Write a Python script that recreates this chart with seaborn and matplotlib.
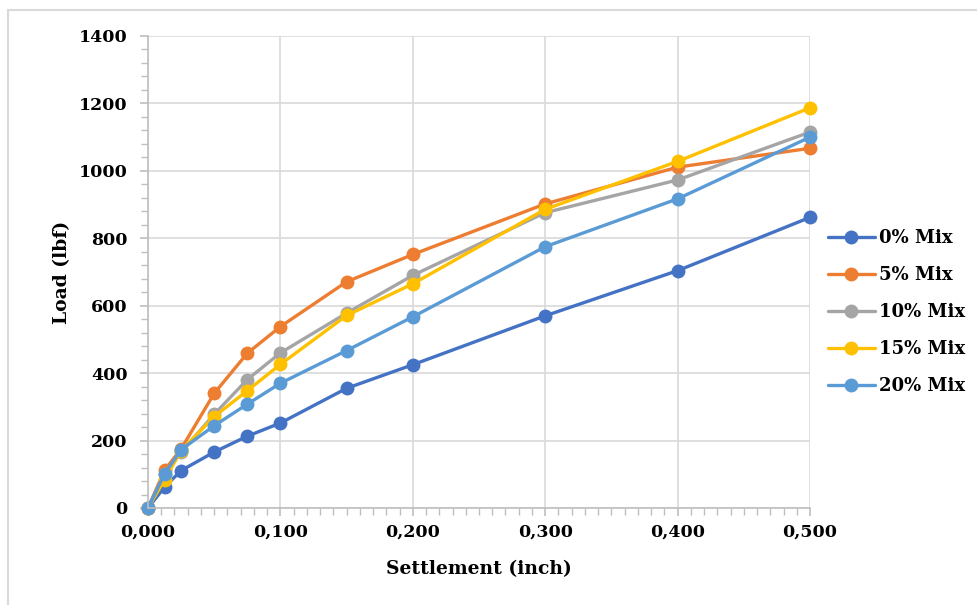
import matplotlib
matplotlib.use("Agg")
import matplotlib.pyplot as plt
from matplotlib.ticker import MultipleLocator, FuncFormatter
from matplotlib.lines import Line2D
import seaborn as sns
import pandas as pd

# Settlement readings (inch)
settlement = [0.0, 0.0125, 0.025, 0.05, 0.075, 0.1, 0.15, 0.2, 0.3, 0.4, 0.5]

# Load (lbf) for each mix
load_0 = [0, 62, 111, 166, 213, 252, 355, 425, 570, 704, 862]
load_5 = [0, 112, 175, 340, 459, 538, 671, 752, 902, 1011, 1067]
load_10 = [0, 100, 165, 278, 381, 460, 578, 690, 876, 973, 1115]
load_15 = [0, 84, 170, 271, 348, 426, 571, 665, 886, 1028, 1187]
load_20 = [0, 101, 173, 244, 308, 370, 467, 567, 775, 917, 1100]

mix_names = ["0% Mix", "5% Mix", "10% Mix", "15% Mix", "20% Mix"]
mix_loads = [load_0, load_5, load_10, load_15, load_20]
mix_colors = ["#4472C4", "#ED7D31", "#A5A5A5", "#FFC000", "#5B9BD5"]

frames = []
for name, loads in zip(mix_names, mix_loads):
    frames.append(pd.DataFrame({"Settlement": settlement, "Load": loads, "Mix": name}))
df = pd.concat(frames, ignore_index=True)

sns.set_theme(style="white")
plt.rcParams["font.family"] = ["DejaVu Serif"]
plt.rcParams["font.weight"] = "bold"

W, H = 978, 605
fig = plt.figure(figsize=(W / 100, H / 100), dpi=100)
ax = fig.add_axes([148 / W, 1 - 508 / H, (810 - 148) / W, (508 - 36) / H])

# Chart frame edges (left and top)
frame_kw = dict(transform=fig.transFigure, color="#D9D9D9", linewidth=1.5, zorder=0)
fig.add_artist(Line2D([8 / W, 8 / W], [0, 1 - 10 / H], **frame_kw))
fig.add_artist(Line2D([8 / W, 1], [1 - 10 / H, 1 - 10 / H], **frame_kw))

sns.lineplot(data=df, x="Settlement", y="Load", hue="Mix", hue_order=mix_names,
             palette=mix_colors, marker="o", markersize=10, markeredgewidth=0,
             linewidth=2.4, ax=ax, sort=False)
for ln in ax.lines:
    ln.set_clip_on(False)

ax.set_xlim(0, 0.5)
ax.set_ylim(0, 1400)
ax.xaxis.set_major_locator(MultipleLocator(0.1))
ax.xaxis.set_minor_locator(MultipleLocator(0.01))
ax.yaxis.set_major_locator(MultipleLocator(200))
ax.yaxis.set_minor_locator(MultipleLocator(40))
ax.xaxis.set_major_formatter(FuncFormatter(lambda v, p: f"{v:.3f}".replace(".", ",")))

ax.grid(True, which="major", color="#D9D9D9", linewidth=1.2)
ax.set_axisbelow(True)
for s in ["top", "right"]:
    ax.spines[s].set_visible(False)
for s in ["left", "bottom"]:
    ax.spines[s].set_color("#BFBFBF")
    ax.spines[s].set_linewidth(1.2)

ax.tick_params(axis="both", which="major", length=6, width=1.2, color="#BFBFBF",
               direction="out", labelsize=12.5, bottom=True, left=True,
               labelcolor="black")
ax.tick_params(axis="y", which="major", pad=8.5)
ax.tick_params(axis="x", which="major", pad=5)
ax.tick_params(axis="both", which="minor", length=5, width=1.0, color="#BFBFBF",
               direction="out", bottom=True, left=True)
for lbl in ax.get_xticklabels() + ax.get_yticklabels():
    lbl.set_fontweight("bold")

ax.set_xlabel("Settlement (inch)", fontsize=13.5, fontweight="bold", labelpad=14,
              color="black")
ax.set_ylabel("Load (lbf)", fontsize=13.5, fontweight="bold", labelpad=6,
              color="black")

leg = ax.legend(loc="center left", bbox_to_anchor=(828 / W, 1 - 312 / H),
                bbox_transform=fig.transFigure, frameon=False,
                prop={"weight": "bold", "size": 13}, handlelength=2.6,
                handletextpad=0.2, labelspacing=1.05, borderaxespad=0, borderpad=0)
for t in leg.get_texts():
    t.set_color("black")

fig.savefig("out.png", dpi=100)
